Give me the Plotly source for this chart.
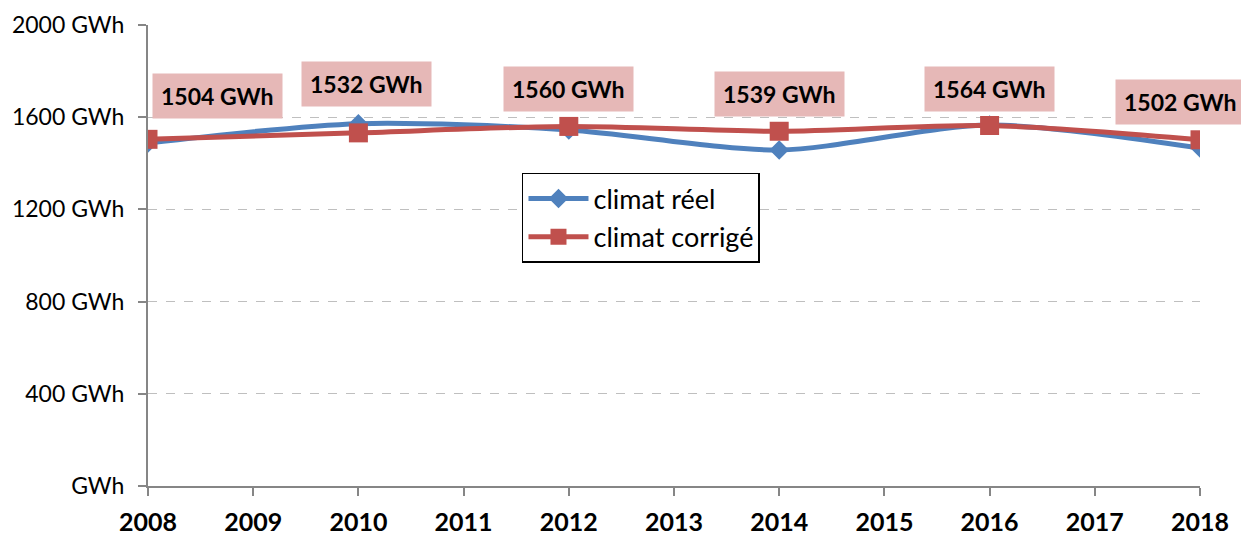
import plotly.graph_objects as go

# data
years = [2008, 2010, 2012, 2014, 2016, 2018]
climat_reel = [1488, 1572, 1545, 1458, 1566, 1466]
climat_corrige = [1504, 1532, 1560, 1539, 1564, 1502]
label_text = ['1504 GWh', '1532 GWh', '1560 GWh', '1539 GWh', '1564 GWh', '1502 GWh']
# pixel offsets of the value boxes relative to their points
label_dx = [69, 8, 0, 0, 0, -20]
label_dy = [43, 49, 37, 37, 37, 38]

y_ticks = [0, 400, 800, 1200, 1600, 2000]
y_tick_text = ['GWh', '400 GWh', '800 GWh', '1200 GWh', '1600 GWh', '2000 GWh']
x_ticks = list(range(2008, 2019))

blue = '#4f81bd'
red = '#c0504d'
font_family = 'Lato, Open Sans, sans-serif'

fig = go.Figure()

fig.add_trace(go.Scatter(
    x=years, y=climat_reel, name='climat réel',
    mode='lines+markers', line=dict(color=blue, width=5, shape='spline', smoothing=0.8),
    marker=dict(symbol='diamond', size=15, color=blue)
))
fig.add_trace(go.Scatter(
    x=years, y=climat_corrige, name='climat corrigé',
    mode='lines+markers', line=dict(color=red, width=5, shape='spline', smoothing=0.8),
    marker=dict(symbol='square', size=19, color=red)
))

for x, y, t, dx, dy in zip(years, climat_corrige, label_text, label_dx, label_dy):
    fig.add_annotation(
        x=x, y=y, text='<b>%s</b>' % t, showarrow=False,
        xshift=dx, yshift=dy, bgcolor='#e6b8b7',
        font=dict(family=font_family, size=23, color='black'),
        borderpad=8
    )

# the page body has an 8px margin, so margins are trimmed to keep the plot area in place
fig.update_layout(
    width=1249, height=535,
    paper_bgcolor='white', plot_bgcolor='white',
    margin=dict(l=140, r=57, t=17, b=57),
    font=dict(family=font_family, color='black'),
    showlegend=True,
    legend=dict(
        x=0.3555, y=0.679, xanchor='left', yanchor='top',
        bordercolor='black', borderwidth=1.5, bgcolor='white',
        font=dict(size=27), itemwidth=60
    ),
    xaxis=dict(
        range=[2008, 2018], tickvals=x_ticks, ticktext=[str(v) for v in x_ticks],
        showgrid=False, showline=True, linecolor='#868686', linewidth=2,
        ticks='outside', ticklen=8, tickcolor='#868686', tickwidth=2,
        tickfont=dict(size=25, family=font_family, weight='bold'),
        ticklabelstandoff=5, zeroline=False, automargin=False
    ),
    yaxis=dict(
        range=[0, 2000], tickvals=y_ticks, ticktext=y_tick_text,
        showgrid=True, gridcolor='#bfbfbf', griddash='dash', gridwidth=1,
        showline=True, linecolor='#868686', linewidth=2,
        ticks='outside', ticklen=8, tickcolor='#868686', tickwidth=2,
        tickfont=dict(size=23), ticklabelstandoff=9,
        zeroline=False, automargin=False
    )
)

fig.write_html('out.html')
